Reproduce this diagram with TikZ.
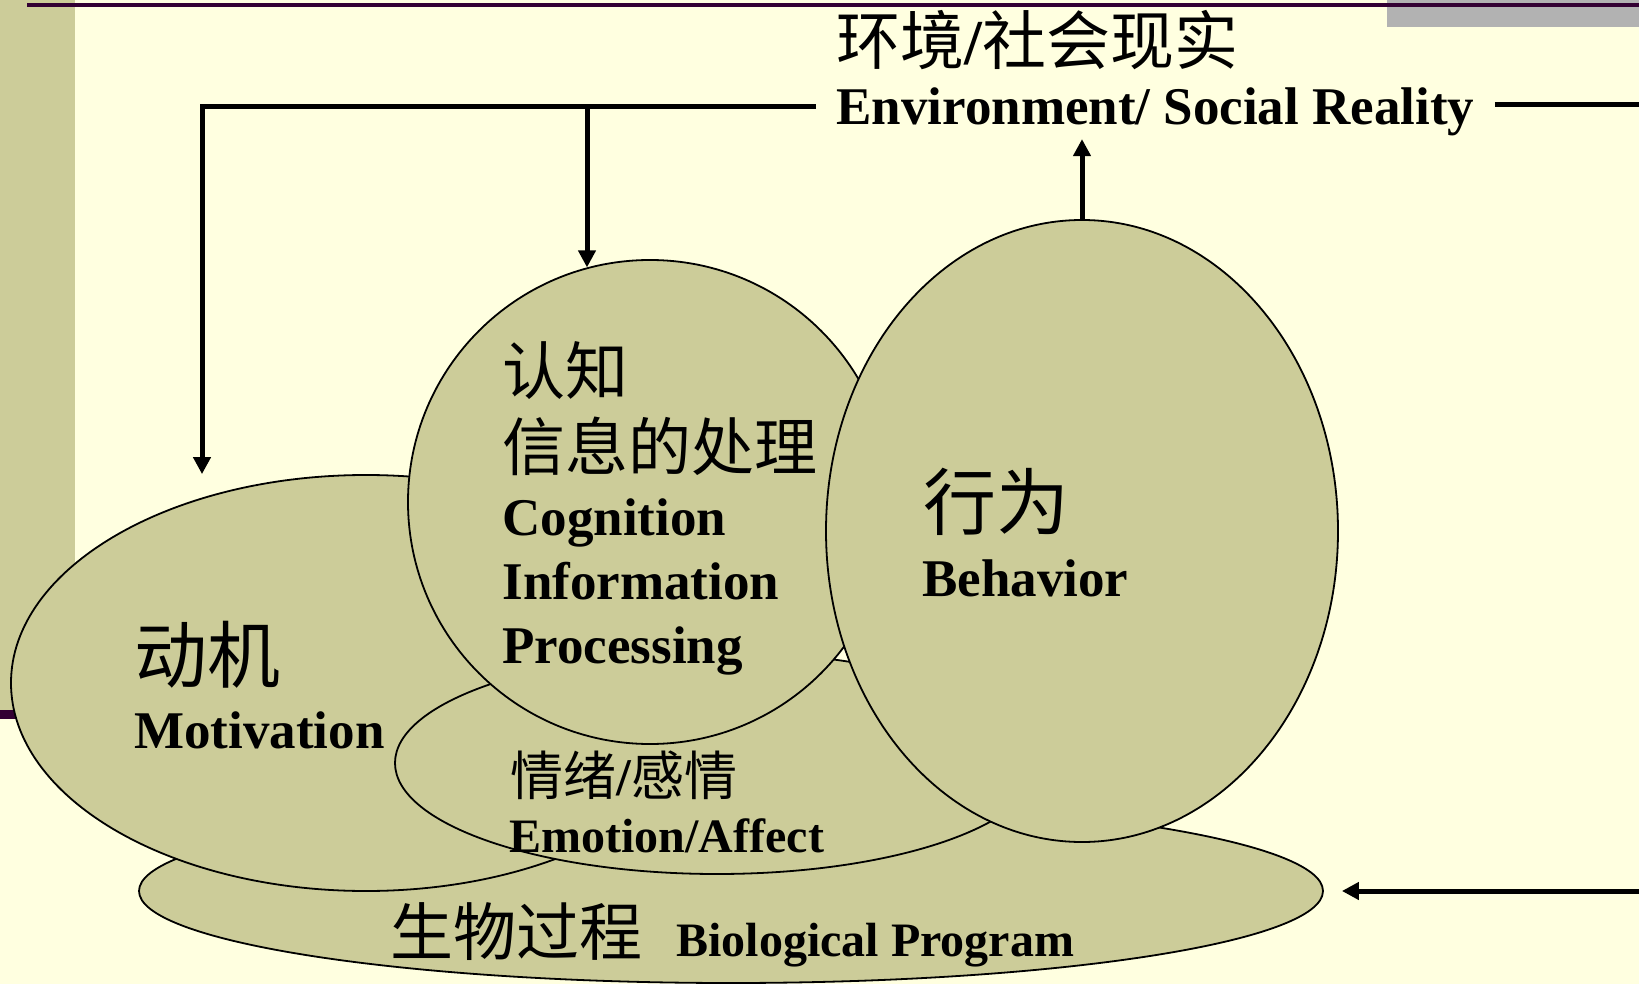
\documentclass[tikz,border=0pt]{standalone}
\usepackage{fontspec}
\setmainfont{Liberation Serif}
\newfontfamily\cjk{Noto Sans CJK SC}
\usetikzlibrary{arrows.meta, positioning, shapes.geometric, calc}
\definecolor{slidebg}{RGB}{255,255,224}
\definecolor{khaki}{RGB}{204,204,153}
\definecolor{plum}{RGB}{51,0,51}
\definecolor{bargray}{RGB}{178,178,178}

\begin{document}
\begin{tikzpicture}[
    x=0.5pt, y=-0.5pt,
    blob/.style={draw, ellipse, fill=khaki, line width=0.9pt, inner sep=0pt},
    zh/.style={anchor=west, inner sep=0pt, font=\cjk\fontsize{31.5}{36}\selectfont},
    en/.style={anchor=base west, inner sep=0pt, font=\bfseries\fontsize{26.5}{32}\selectfont},
    arr/.style={-{Triangle[width=8.5pt,length=8.5pt]}, line width=2.5pt}
]
\useasboundingbox (0,0) rectangle (1639,984);
\fill[slidebg] (0,0) rectangle (1639,984);
\fill[khaki] (0,0) rectangle (75,712);
\fill[plum] (0,710) rectangle (300,719);
\fill[bargray] (1387,0) rectangle (1639,27);
\draw[plum, line width=2pt] (27,5) -- (1639,5);

\node[blob, minimum width=592pt, minimum height=92pt] (bio) at (731,891) {};
\node[blob, minimum width=355pt, minimum height=208pt] (motiv) at (366,683) {};
\node[blob, minimum width=322pt, minimum height=111pt] (emo) at (717,763) {};
\node[blob, circle, minimum size=242pt] (cog) at (650,502) {};
\node[blob, minimum width=256pt, minimum height=311pt] (beh) at (1082,531) {};

\node[zh, font=\cjk\fontsize{32}{36}\selectfont] (envzh) at (836,40) {环境{\rmfamily\bfseries/}社会现实};
\node[en, inner sep=10pt] (enven) at (816,125) {Environment/ Social Reality};

\node[zh] (cogzh) at (502,371) {认知};
\node[zh] (infozh) at (502,446) {信息的处理};
\node[en] (cogen) at (502,535) {Cognition};
\node[en] (infoen) at (502,599) {Information};
\node[en] (procen) at (502,663) {Processing};

\node[zh, font=\cjk\fontsize{36.5}{40}\selectfont] (motivzh) at (134,655) {动机};
\node[en] (motiven) at (134,748) {Motivation};

\node[zh, font=\cjk\fontsize{36.5}{40}\selectfont] (behzh) at (923,502) {行为};
\node[en] (behen) at (922,596) {Behavior};

\node[zh, font=\cjk\fontsize{26.5}{30}\selectfont] (emozh) at (510,775) {情绪{\rmfamily\bfseries/}感情};
\node[en, font=\bfseries\fontsize{24}{28}\selectfont] (emoen) at (509,852) {Emotion/Affect};

\node[zh] (biozh) at (390,932) {生物过程};
\node[en, font=\bfseries\fontsize{24}{28}\selectfont] (bioen) at (676,956) {Biological Program};

\coordinate (envL) at (202,107);
\coordinate (envM) at (587,107);
\coordinate (envR) at (1639,105);
\coordinate (bioR) at (1639,891);

\draw[arr] (enven.west |- envL) -- (envL) -- (envL |- motiv.north);
\draw[arr] (envM) -- (envM |- cog.105);
\draw[line width=2.5pt] (enven.east |- envR) -- (envR);
\draw[arr] (beh.north) -- ++(0,-80);
\draw[arr, shorten >=9pt] (bioR) -- (bio.east);
\end{tikzpicture}
\end{document}
